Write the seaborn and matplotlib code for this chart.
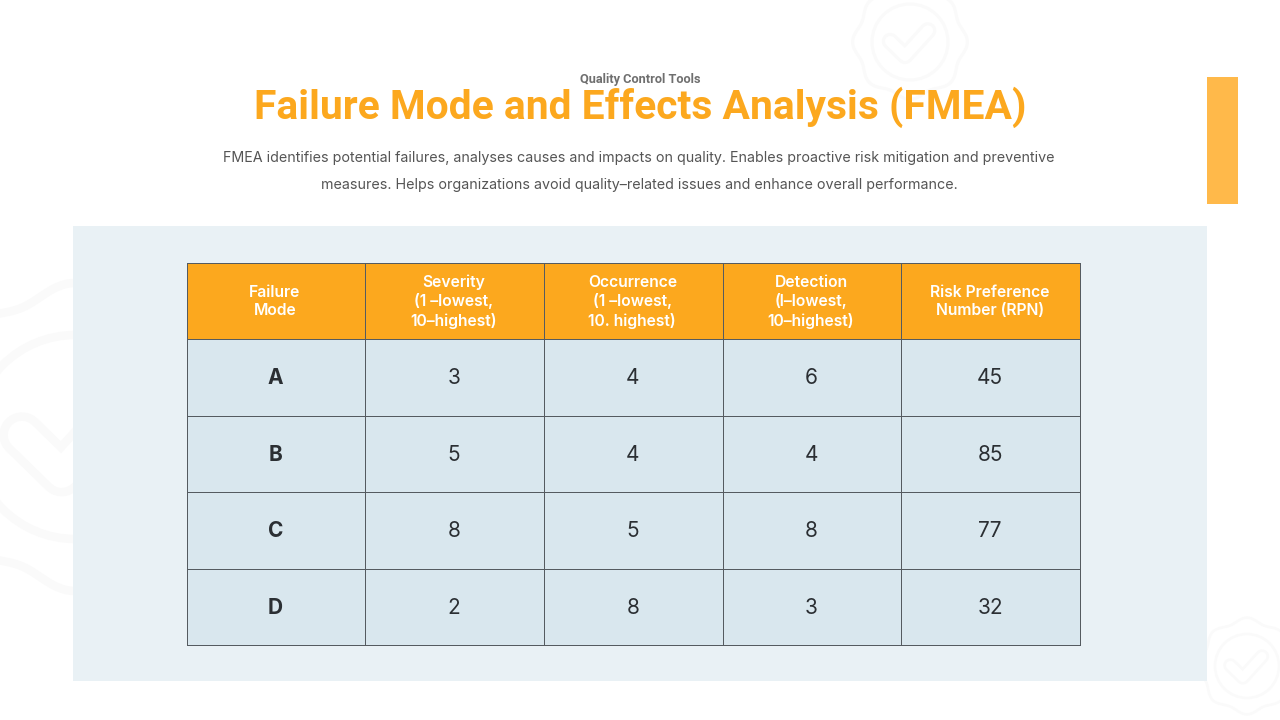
import numpy as np
import pandas as pd
import matplotlib
matplotlib.use("Agg")
import matplotlib.pyplot as plt
from matplotlib.colors import ListedColormap
from matplotlib.patches import Rectangle, Circle
import seaborn as sns

# ---- data ----
headers = ["Failure\nMode", "Severity\n(1 \u2013lowest,\n10\u2013highest)",
           "Occurrence\n(1 \u2013lowest,\n10. highest)", "Detection\n(l\u2013lowest,\n10\u2013highest)",
           "Risk Preference\nNumber (RPN)"]
failure_modes = ["A", "B", "C", "D"]
severity = [3, 5, 8, 2]
occurrence = [4, 4, 5, 8]
detection = [6, 4, 8, 3]
rpn = [45, 85, 77, 32]

kicker = "Quality Control Tools"
title = "Failure Mode and Effects Analysis (FMEA)"
desc1 = "FMEA identifies potential failures, analyses causes and impacts on quality. Enables proactive risk mitigation and preventive"
desc2 = "measures. Helps organizations avoid quality\u2013related issues and enhance overall performance."

ORANGE = "#FCA81E"
BODY = "#D9E7EE"
PANEL = "#E9F1F5"
MARK = "#FAFAFA"
TXT = "#2B2F33"
W, H = 1280, 720

sns.set_theme(style="white")
plt.rcParams["font.family"] = ["Inter", "DejaVu Sans"]

fig = plt.figure(figsize=(W / 100, H / 100), dpi=100, facecolor="white")

# page layer in pixel units
bg = fig.add_axes([0, 0, 1, 1])
bg.set_xlim(0, W)
bg.set_ylim(H, 0)
bg.axis("off")


def badge(cx, cy, r):
    t = np.linspace(0, 2 * np.pi, 400)
    rad = r * (1.44 + 0.07 * np.cos(8 * t))
    lw = r * 0.06
    bg.plot(cx + rad * np.cos(t), cy + rad * np.sin(t), color=MARK, lw=lw, zorder=1)
    bg.add_patch(Circle((cx, cy), r, fill=False, ec=MARK, lw=lw, zorder=1))
    xs = cx + r * np.array([-0.52, -0.13, 0.47])
    ys = cy + r * np.array([-0.02, 0.36, -0.30])
    bg.plot(xs, ys, color=MARK, lw=r * 0.32, solid_capstyle="round", solid_joinstyle="round", zorder=1)
    bg.plot(xs, ys, color="white", lw=r * 0.20, solid_capstyle="round", solid_joinstyle="round", zorder=1)


badge(75, 437, 102)
badge(910, 42, 38)
badge(1247, 666, 32)

bg.add_patch(Rectangle((73, 226), 1134, 455, fc=PANEL, ec="none", zorder=2))
bg.add_patch(Rectangle((1207, 77), 31, 127, fc="#FFB94A", ec="none", zorder=2))

bg.text(640.5, 79, kicker, ha="center", va="center", fontsize=9.2, fontweight="bold",
        family="Roboto", color="#6F6F6F", zorder=3)
bg.text(640, 107.5, title, ha="center", va="center", fontsize=29.3, fontweight="bold",
        family="Roboto", color=ORANGE, zorder=3)
bg.text(639, 158, desc1, ha="center", va="center", fontsize=10.3, color="#555555", zorder=3)
bg.text(639.5, 185.5, desc2, ha="center", va="center", fontsize=10.3, color="#555555", zorder=3)

# table drawn as a seaborn heatmap
table = pd.DataFrame({"mode": failure_modes, "sev": severity, "occ": occurrence,
                      "det": detection, "rpn": rpn})
colour_index = np.vstack([np.ones((1, len(headers))), np.zeros((len(table), len(headers)))])

ax = fig.add_axes([186.5 / W, 1 - 645 / H, (1080 - 186.5) / W, (645 - 262.5) / H])
sns.heatmap(colour_index, ax=ax, cmap=ListedColormap([BODY, ORANGE]), vmin=0, vmax=1,
            cbar=False, linewidths=0.55, linecolor="#555B60", xticklabels=False, yticklabels=False,
            clip_on=False)
ax.patch.set_alpha(0)

for c, label in enumerate(headers):
    ax.text(c + 0.495, 0.51, label, ha="center", va="center", fontsize=11.3, fontweight="semibold",
            color="white", linespacing=1.27)

for r, row in enumerate(table.itertuples(index=False), start=1):
    for c, value in enumerate(row):
        ax.text(c + 0.497, r + 0.515, str(value), ha="center", va="center", fontsize=15,
                fontweight="bold" if c == 0 else "normal", color=TXT)

fig.savefig("out.png", dpi=100, facecolor="white")
